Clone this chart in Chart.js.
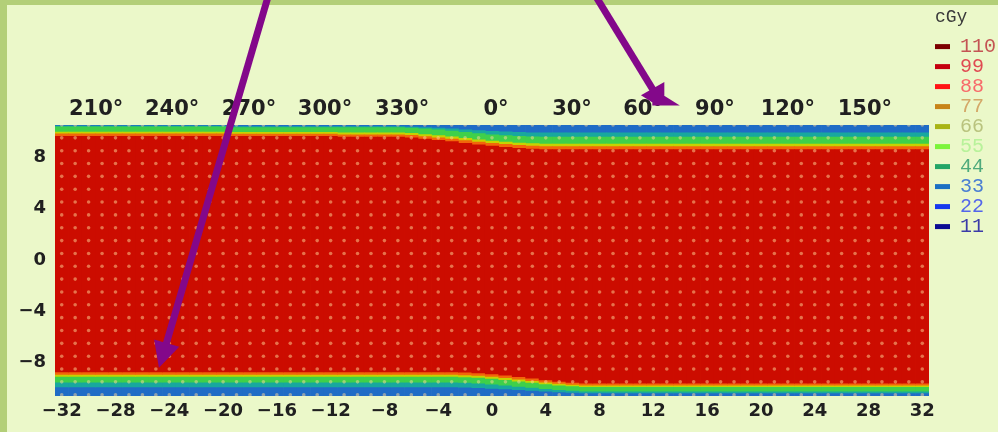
<!DOCTYPE html>
<html>
<head>
<meta charset="utf-8">
<script src="https://cdn.jsdelivr.net/npm/chart.js@4.4.1/dist/chart.umd.min.js"></script>
<style>
  html, body { margin:0; padding:0; width:998px; height:432px; overflow:hidden; background:#b3cf78; }
  #paper { position:absolute; left:7px; top:5px; right:0; bottom:0; background:#ebf8c9; }
  #c { position:absolute; left:0; top:0; }
</style>
</head>
<body>
<div id="paper"></div>
<canvas id="c" width="998" height="432"></canvas>
<script>
// ---------- data ----------
// columns of the dose map (cm along the cylinder)
const columnX = [-32,-31,-30,-29,-28,-27,-26,-25,-24,-23,-22,-21,-20,-19,-18,-17,-16,-15,-14,-13,-12,-11,-10,-9,-8,-7,-6,-5,-4,-3,-2,-1,0,1,2,3,4,5,6,7,8,9,10,11,12,13,14,15,16,17,18,19,20,21,22,23,24,25,26,27,28,29,30,31,32];
// upper edge of the high-dose (red) region per column
const redTop = [9.62,9.62,9.62,9.62,9.62,9.62,9.62,9.62,9.62,9.62,9.62,9.62,9.62,9.62,9.62,9.62,9.62,9.62,9.62,9.62,9.62,9.55,9.55,9.55,9.55,9.55,9.5,9.4,9.3,9.2,9.08,8.96,8.85,8.76,8.68,8.62,8.58,8.58,8.58,8.58,8.58,8.58,8.58,8.58,8.58,8.58,8.58,8.58,8.58,8.58,8.58,8.58,8.58,8.58,8.58,8.58,8.58,8.58,8.58,8.58,8.58,8.58,8.58,8.58,8.58];
// upper outer edge of the green (~50%) isodose per column
const greenTop = [10.36,10.36,10.36,10.36,10.36,10.36,10.36,10.36,10.36,10.36,10.36,10.36,10.36,10.3,10.3,10.3,10.3,10.3,10.3,10.3,10.3,10.3,10.3,10.3,10.3,10.3,10.26,10.2,10.12,10.03,9.93,9.83,9.74,9.67,9.61,9.57,9.55,9.55,9.55,9.55,9.55,9.55,9.55,9.55,9.55,9.55,9.55,9.55,9.55,9.55,9.55,9.55,9.55,9.55,9.55,9.55,9.55,9.55,9.55,9.55,9.55,9.55,9.55,9.55,9.55];
// lower edge of the red region per column
const redBottom = [-8.72,-8.72,-8.72,-8.72,-8.72,-8.72,-8.72,-8.72,-8.72,-8.72,-8.72,-8.72,-8.72,-8.72,-8.72,-8.72,-8.72,-8.72,-8.72,-8.72,-8.72,-8.72,-8.72,-8.72,-8.72,-8.72,-8.72,-8.72,-8.72,-8.72,-8.75,-8.8,-8.88,-8.98,-9.1,-9.22,-9.35,-9.46,-9.54,-9.6,-9.6,-9.6,-9.6,-9.6,-9.6,-9.6,-9.6,-9.6,-9.6,-9.6,-9.6,-9.6,-9.6,-9.6,-9.6,-9.6,-9.6,-9.6,-9.6,-9.6,-9.6,-9.6,-9.6,-9.6,-9.6];
// lower outer edge of the green isodose per column
const greenBottom = [-9.52,-9.52,-9.52,-9.52,-9.52,-9.52,-9.52,-9.52,-9.52,-9.52,-9.52,-9.52,-9.52,-9.52,-9.52,-9.52,-9.52,-9.52,-9.52,-9.52,-9.52,-9.52,-9.52,-9.52,-9.52,-9.52,-9.52,-9.52,-9.52,-9.52,-9.55,-9.6,-9.68,-9.76,-9.85,-9.94,-10.03,-10.1,-10.17,-10.22,-10.22,-10.22,-10.22,-10.22,-10.22,-10.22,-10.22,-10.22,-10.22,-10.22,-10.22,-10.22,-10.22,-10.22,-10.22,-10.22,-10.22,-10.22,-10.22,-10.22,-10.22,-10.22,-10.22,-10.22,-10.22];
const fieldTop = 10.5;
const fieldBottom = -10.6;

// measurement dot grid
const dotX = [-32,-31,-30,-29,-28,-27,-26,-25,-24,-23,-22,-21,-20,-19,-18,-17,-16,-15,-14,-13,-12,-11,-10,-9,-8,-7,-6,-5,-4,-3,-2,-1,0,1,2,3,4,5,6,7,8,9,10,11,12,13,14,15,16,17,18,19,20,21,22,23,24,25,26,27,28,29,30,31,32];
const dotY = [-10.5,-9.5,-8.5,-7.5,-6.5,-5.5,-4.5,-3.5,-2.5,-1.5,-0.5,0.5,1.5,2.5,3.5,4.5,5.5,6.5,7.5,8.5,9.5,10.5];

// tick labels
const xTicks = [-32,-28,-24,-20,-16,-12,-8,-4,0,4,8,12,16,20,24,28,32];
const yTicks = [8,4,0,-4,-8];
const angleLabels = ['210°','240°','270°','300°','330°','0°','30°','60°','90°','120°','150°'];
const anglePos = [-29.44,-23.79,-18.07,-12.42,-6.69,0.30,5.95,11.23,16.58,22.0,27.73];

// legend (cGy)
const doseLevels = ['110','99','88','77','66','55','44','33','22','11'];
const doseColors = ['#7c0000','#c4000e','#ff1414','#c78418','#a8b414','#7cf43a','#22a566','#1b6fc3','#1638ee','#0b0b92'];
const doseTextColors = ['#c45454','#e04a52','#f86a6a','#d4a868','#b9c37e','#b8f29a','#4eaa7c','#4a7ed2','#5466ea','#3b3ba8'];

// annotation arrows (data units): shaft start/end and arrowhead outline
const arrowShafts = [
  [{x:-16.62,y:20.62},{x:-24.38,y:-7.08}],
  [{x:7.66,y:20.62},{x:12.24,y:12.79}]
];
const arrowHeads = [
  [{x:-24.48,y:-7.41},{x:-24.10,y:-7.00},{x:-24.57,y:-6.86},{x:-24.48,y:-7.41},{x:-24.10,y:-7.00}],
  [{x:12.41,y:12.49},{x:12.37,y:13.04},{x:11.95,y:12.79},{x:12.41,y:12.49},{x:12.37,y:13.04}]
];

// ---------- build isodose layers ----------
const layerColors = ['#1f6cc6','#18a89e','#3fd04a','#c7d200','#f2660a','#cc0c00'];
function layerBounds(i, k) {
  const gT = greenTop[i], rT = redTop[i], gB = greenBottom[i], rB = redBottom[i];
  switch (k) {
    case 0: return [fieldBottom, fieldTop];
    case 1: return [gB - 0.35*(gB - fieldBottom), gT + 0.35*(fieldTop - gT)];
    case 2: return [gB, gT];
    case 3: return [gB + 0.55*(rB - gB), gT - 0.55*(gT - rT)];
    case 4: return [gB + 0.75*(rB - gB), gT - 0.75*(gT - rT)];
    default: return [rB, rT];
  }
}
const heatSets = layerColors.map((col, k) => ({
  type: 'bar',
  data: columnX.map((x, i) => ({x: x, y: layerBounds(i, k)})),
  backgroundColor: col,
  borderWidth: 0,
  barPercentage: 1,
  categoryPercentage: 1,
  grouped: false,
  order: 20 - k
}));

const dots = [];
dotY.forEach(y => dotX.forEach(x => dots.push({x: x, y: y})));

const purple = '#83088a';
const arrowSets = [];
arrowShafts.forEach(s => arrowSets.push({type:'line', data:s, borderColor:purple, borderWidth:7,
  borderCapStyle:'butt', pointRadius:0, clip:false, order:1}));
arrowHeads.forEach(h => arrowSets.push({type:'line', data:h, borderColor:purple, borderWidth:12,
  borderJoinStyle:'miter', pointRadius:0, clip:false, order:0}));

const datasets = [
  ...heatSets,
  {type:'line', data: dots, showLine:false, pointRadius:1.8, pointBorderWidth:0,
   pointBackgroundColor:'rgba(255,215,150,0.5)', order: 2},
  ...arrowSets
];

const minus = v => (v < 0 ? '\u2212' + Math.abs(v) : String(v));
const tickFont = {family:'DejaVu Sans', weight:'bold', size:18};

new Chart(document.getElementById('c'), {
  type: 'bar',
  data: { datasets },
  options: {
    responsive: false,
    animation: false,
    events: [],
    layout: { padding: 0 },
    scales: {
      x: {
        type:'linear', position:'bottom', min:-32.5, max:32.5, offset:false,
        grid:{display:false, drawTicks:false}, border:{display:false},
        afterBuildTicks: s => { s.ticks = xTicks.map(v => ({value:v})); },
        afterFit: s => { s.height = 36; },
        ticks:{ autoSkip:false, maxRotation:0, minRotation:0, padding:5, color:'#202020',
                font: tickFont, callback: v => minus(v) }
      },
      xTop: {
        type:'linear', position:'top', min:-32.5, max:32.5, offset:false,
        grid:{display:false, drawTicks:false}, border:{display:false},
        afterBuildTicks: s => { s.ticks = anglePos.map(v => ({value:v})); },
        afterFit: s => { s.height = 125; },
        ticks:{ autoSkip:false, maxRotation:0, minRotation:0, padding:3, color:'#202020',
                font:{family:'DejaVu Sans', weight:'bold', size:21},
                callback: (v, i) => angleLabels[i] }
      },
      y: {
        type:'linear', position:'left', min:fieldBottom, max:fieldTop,
        grid:{display:false, drawTicks:false}, border:{display:false},
        afterBuildTicks: s => { s.ticks = yTicks.map(v => ({value:v})); },
        afterFit: s => { s.width = 55; },
        ticks:{ padding:9, color:'#202020', font: tickFont, callback: v => minus(v) }
      },
      yR: {
        type:'linear', position:'right', display:true,
        grid:{display:false, drawTicks:false}, border:{display:false},
        ticks:{display:false},
        afterFit: s => { s.width = 6; }
      }
    },
    plugins: {
      tooltip: { enabled:false },
      legend: {
        display: true,
        position: 'right',
        align: 'start',
        maxWidth: 63,
        title: { display:true, text:'cGy', position:'start', color:'#3a3a3a',
                 font:{family:'Liberation Mono', size:18}, padding:{top:8, bottom:7} },
        labels: {
          boxWidth: 15, boxHeight: 5, padding: 0,
          font: {family:'Liberation Mono', size:20},
          generateLabels: () => doseLevels.map((t, i) => ({
            text: t, fillStyle: doseColors[i], strokeStyle: doseColors[i], lineWidth: 0,
            fontColor: doseTextColors[i], hidden: false, index: i
          }))
        }
      }
    }
  }
});
</script>
</body>
</html>
